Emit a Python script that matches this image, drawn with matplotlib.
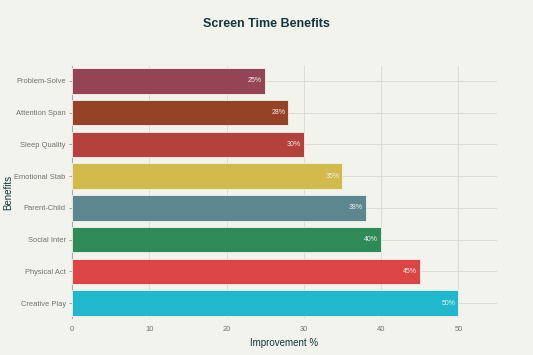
import matplotlib.pyplot as plt
import numpy as np

benefits = ['Creative Play', 'Physical Act', 'Social Inter', 'Parent-Child',
            'Emotional Stab', 'Sleep Quality', 'Attention Span', 'Problem-Solve']
improvement = [50, 45, 40, 38, 35, 30, 28, 25]
colors = ['#1FB8CD', '#DB4545', '#2E8B57', '#5D878F',
          '#D2BA4C', '#B4413C', '#964325', '#944454']

bg = '#F3F3EE'
plt.rcParams['font.family'] = ['Liberation Sans', 'DejaVu Sans']

fig = plt.figure(figsize=(5.33, 3.55), dpi=100, facecolor=bg)
ax = fig.add_axes([0.135, 0.104, 0.7975, 0.71], facecolor=bg)

y = np.arange(len(benefits))
ax.barh(y, improvement, height=0.8, color=colors, edgecolor='#F3F3EE', linewidth=0.6, zorder=3)

for yi, v in zip(y, improvement):
    ax.text(v - 0.4, yi, f'{v}%', ha='right', va='center', fontsize=5, color='#F0F0F0', zorder=4)

ax.set_xlim(0, 55)
ax.set_ylim(-0.47, 7.47)
ax.set_xticks([0, 10, 20, 30, 40, 50])
ax.set_yticks(y)
ax.set_yticklabels(benefits)
ax.grid(True, color='#DCDCD6', linewidth=0.7, zorder=0)
for s in ['top', 'right', 'bottom']:
    ax.spines[s].set_visible(False)
ax.spines['left'].set_color('#AAAAAA')
ax.spines['left'].set_linewidth(0.8)
ax.tick_params(axis='both', labelsize=5.4, colors='#999999', length=2.5, width=0.6, pad=2)
ax.tick_params(axis='x', length=0, pad=6)
for lbl in ax.get_xticklabels() + ax.get_yticklabels():
    lbl.set_color('#707070')

ax.set_xlabel('Improvement %', fontsize=7, color='#13343B')
ax.set_ylabel('Benefits', fontsize=7, color='#13343B')
ax.xaxis.set_label_coords(0.5, -0.08)
ax.yaxis.set_label_coords(-0.138, 0.5)
fig.suptitle('Screen Time Benefits', fontsize=9, fontweight='semibold', color='#13343B', y=0.95)

fig.savefig('out.png', dpi=100, facecolor=bg)
